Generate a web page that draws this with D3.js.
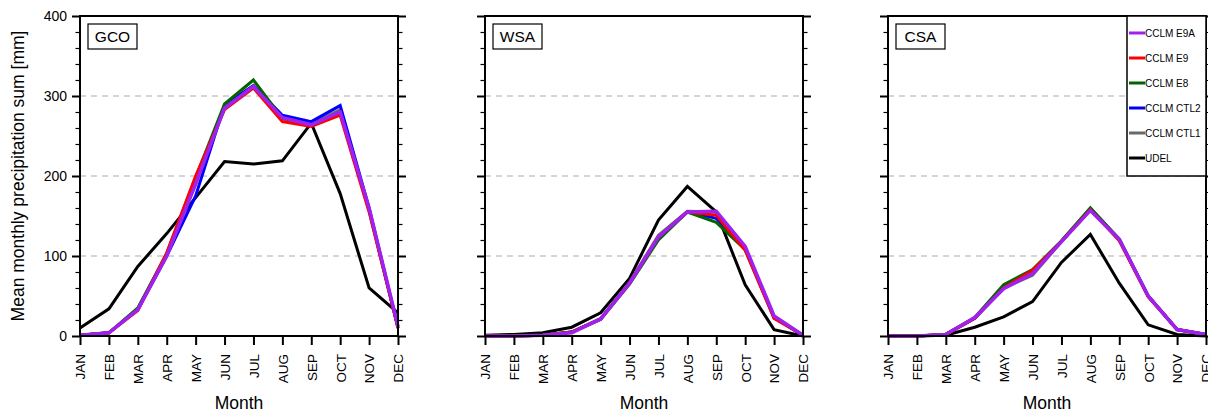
<!DOCTYPE html>
<html>
<head>
<meta charset="utf-8">
<script src="https://cdn.jsdelivr.net/npm/d3@7"></script>
<style>
  body { margin: 0; background: #fff; }
  svg { display: block; font-family: "Liberation Sans", Arial, sans-serif; }
  .grid line { stroke: #c8c8c8; stroke-width: 1.5; stroke-dasharray: 6,5; }
</style>
</head>
<body>
<div id="chart"></div>
<script>
const months = ["JAN", "FEB", "MAR", "APR", "MAY", "JUN", "JUL", "AUG", "SEP", "OCT", "NOV", "DEC"]
const regions = ["GCO", "WSA", "CSA"]
const seriesNames = ["UDEL", "CCLM CTL1", "CCLM CTL2", "CCLM E8", "CCLM E9", "CCLM E9A"]
const seriesColors = ["#000000", "#696969", "#0000ff", "#006400", "#ff0000", "#a020f0"]

// one array per region, values per series in seriesNames order
const gco = [
    [10, 34, 87, 128, 173, 218, 215, 219, 266, 178, 60, 29],   // UDEL
    [1, 4, 34, 102, 190, 287, 313, 272, 265, 283, 158, 11],   // CTL1
    [1, 4, 33, 100, 175, 289, 313, 276, 268, 288, 160, 10],   // CTL2
    [1, 4, 35, 103, 198, 290, 320, 272, 264, 279, 157, 10],   // E8
    [1, 4, 32, 104, 200, 283, 310, 268, 262, 276, 155, 10],   // E9
    [1, 4, 33, 100, 190, 285, 312, 273, 264, 280, 160, 12]    // E9A
]
const wsa = [
    [1, 2, 4, 11, 29, 72, 145, 187, 155, 64, 8, 0],
    [0, 0, 1, 5, 22, 67, 126, 156, 155, 110, 24, 1],
    [0, 0, 1, 5, 21, 66, 123, 155, 147, 110, 23, 1],
    [0, 0, 1, 5, 21, 65, 120, 155, 142, 108, 23, 1],
    [0, 0, 1, 5, 21, 66, 124, 155, 151, 107, 22, 1],
    [0, 0, 1, 4, 21, 66, 124, 155, 156, 112, 25, 1]
]
const csa = [
    [0, 0, 1, 11, 24, 43, 92, 127, 66, 14, 2, 0],
    [0, 0, 2, 22, 60, 76, 118, 160, 121, 50, 8, 2],
    [0, 0, 2, 22, 60, 79, 118, 158, 120, 50, 8, 2],
    [0, 0, 2, 23, 64, 83, 119, 160, 121, 50, 8, 2],
    [0, 0, 2, 22, 60, 82, 118, 158, 119, 49, 8, 2],
    [0, 0, 2, 23, 59, 78, 118, 157, 121, 50, 8, 2]
]
const panelData = [gco, wsa, csa]
const yTicks = [0, 100, 200, 300, 400]

const width = 1208, height = 412
const panelLeft = [80, 485, 888], panelW = 318
const plotTop = 16, plotBottom = 336

const svg = d3.select("#chart").append("svg")
    .attr("width", width).attr("height", height)

const yScale = d3.scaleLinear().domain([0, 400]).range([plotBottom, plotTop])

panelData.forEach((data, p) => {
    const x0 = panelLeft[p]
    const xScale = d3.scalePoint().domain(months).range([x0, x0 + panelW])
    const g = svg.append("g")

    // dashed grid
    g.append("g").attr("class", "grid")
        .selectAll("line").data([100, 200, 300]).enter().append("line")
        .attr("x1", x0).attr("x2", x0 + panelW)
        .attr("y1", d => yScale(d)).attr("y2", d => yScale(d))

    // lines, UDEL first so models sit on top
    const line = d3.line()
        .x((d, i) => xScale(months[i]))
        .y(d => yScale(d))
    data.forEach((vals, s) => {
        g.append("path")
            .datum(vals)
            .attr("d", line)
            .attr("fill", "none")
            .attr("stroke", seriesColors[s])
            .attr("stroke-width", s == 5 ? 3.5 : 3)
            .attr("stroke-linejoin", "miter")
    })

    // y axes left and right, major + minor ticks outward
    const minor = d3.range(0, 401, 20).filter(v => v % 100 != 0)
    const yLeft = g.append("g").attr("transform", `translate(${x0},0)`)
        .call(d3.axisLeft(yScale).tickValues(yTicks).tickSize(8).tickFormat(p == 0 ? d3.format("d") : ""))
    yLeft.call(gg => gg.select(".domain").remove())
    yLeft.selectAll("line").attr("stroke-width", 2)
    yLeft.selectAll("text").attr("font-size", 14).attr("font-family", "Liberation Sans, Arial").attr("dx", -2)
    g.append("g").attr("transform", `translate(${x0},0)`)
        .call(d3.axisLeft(yScale).tickValues(minor).tickSize(4.5).tickFormat(""))
        .call(gg => gg.select(".domain").remove())
        .selectAll("line").attr("stroke-width", 1.2)

    g.append("g").attr("transform", `translate(${x0 + panelW},0)`)
        .call(d3.axisRight(yScale).tickValues(yTicks).tickSize(8).tickFormat(""))
        .call(gg => gg.select(".domain").remove())
        .selectAll("line").attr("stroke-width", 2)
    g.append("g").attr("transform", `translate(${x0 + panelW},0)`)
        .call(d3.axisRight(yScale).tickValues(minor).tickSize(4.5).tickFormat(""))
        .call(gg => gg.select(".domain").remove())
        .selectAll("line").attr("stroke-width", 1.2)

    // x axis with rotated month labels
    const xAxis = g.append("g").attr("transform", `translate(0,${plotBottom})`)
        .call(d3.axisBottom(xScale).tickSize(9).tickPadding(0))
    xAxis.select(".domain").remove()
    xAxis.selectAll("line").attr("stroke-width", 2)
    xAxis.selectAll("text")
        .attr("font-size", 13.5)
        .attr("font-family", "Liberation Sans, Arial")
        .style("text-anchor", "end")
        .attr("transform", "rotate(-90)")
        .attr("x", -18).attr("y", 0).attr("dy", "0.36em")

    // frame
    g.append("rect")
        .attr("x", x0).attr("y", plotTop).attr("width", panelW).attr("height", plotBottom - plotTop)
        .attr("fill", "none").attr("stroke", "#000").attr("stroke-width", 2)

    // region label box
    g.append("rect")
        .attr("x", x0 + 8).attr("y", 24).attr("width", 49).attr("height", 25)
        .attr("fill", "#fff").attr("stroke", "#000").attr("stroke-width", 1.2)
    g.append("text")
        .attr("x", x0 + 32.5).attr("y", 42).attr("text-anchor", "middle")
        .attr("font-size", 15.5).text(regions[p])

    g.append("text")
        .attr("x", x0 + panelW / 2).attr("y", 409).attr("text-anchor", "middle")
        .attr("font-size", 17.5).text("Month")
})

// y axis title
svg.append("text")
    .attr("transform", `translate(24,${(plotTop + plotBottom) / 2}) rotate(-90)`)
    .attr("text-anchor", "middle")
    .attr("font-size", 17.5)
    .text("Mean monthly precipitation sum [mm]")

// legend in last panel, reverse order
const legend = svg.append("g")
legend.append("rect")
    .attr("x", 1127).attr("y", plotTop).attr("width", 79).attr("height", 160)
    .attr("fill", "#fff").attr("stroke", "#000").attr("stroke-width", 1.5)
const legendOrder = d3.range(seriesNames.length).reverse()
legendOrder.forEach((s, k) => {
    const y = 33 + k * 25
    legend.append("line")
        .attr("x1", 1129).attr("x2", 1145).attr("y1", y).attr("y2", y)
        .attr("stroke", seriesColors[s]).attr("stroke-width", 3)
    legend.append("text")
        .attr("x", 1145).attr("y", y).attr("dy", "0.35em")
        .attr("font-size", 10).text(seriesNames[s])
})
</script>
</body>
</html>
